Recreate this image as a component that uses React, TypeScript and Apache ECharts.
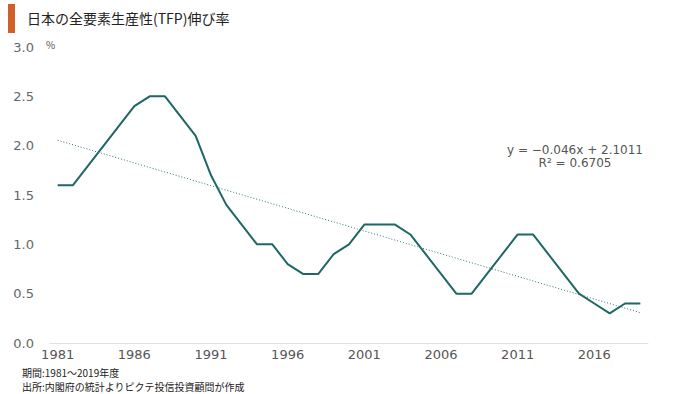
import React, { useEffect, useRef } from "react";
import * as echarts from "echarts";

const years: string[] = [];
for (let y = 1981; y <= 2019; y++) years.push(String(y));

const tfp = [
  1.6, 1.6, 1.8, 2.0, 2.2, 2.4, 2.5, 2.5, 2.3, 2.1,
  1.7, 1.4, 1.2, 1.0, 1.0, 0.8, 0.7, 0.7, 0.9, 1.0,
  1.2, 1.2, 1.2, 1.1, 0.9, 0.7, 0.5, 0.5, 0.7, 0.9,
  1.1, 1.1, 0.9, 0.7, 0.5, 0.4, 0.3, 0.4, 0.4,
];

const slope = -0.046;
const intercept = 2.1011;
const trendStart = [years[0], slope * 1 + intercept];
const trendEnd = [years[years.length - 1], slope * years.length + intercept];

const yTicks = { min: 0, max: 3, interval: 0.5 };

const title = "日本の全要素生産性(TFP)伸び率";
const notes = ["期間:1981～2019年度", "出所:内閣府の統計よりピクテ投信投資顧問が作成"];
const eqText = ["y = −0.046x + 2.1011", "R² = 0.6705"];

export default function App() {
  const ref = useRef<HTMLDivElement>(null);
  useEffect(() => {
    if (!ref.current) return;
    const chart = echarts.init(ref.current, undefined, { renderer: "svg" });
    const font = "'Noto Sans CJK JP', 'Noto Sans', sans-serif";
    chart.setOption({
      animation: false,
      backgroundColor: "#ffffff",
      textStyle: { fontFamily: font },
      grid: { left: 50, right: 32, top: 47, bottom: 51 },
      xAxis: {
        type: "category",
        data: years,
        boundaryGap: true,
        axisLine: { lineStyle: { color: "#e0e0e0", width: 1 } },
        axisTick: { show: false },
        axisLabel: {
          interval: 4,
          color: "#555555",
          fontSize: 13,
          margin: 5,
          fontFamily: "'DejaVu Sans', sans-serif",
        },
      },
      yAxis: {
        type: "value",
        min: yTicks.min,
        max: yTicks.max,
        interval: yTicks.interval,
        axisLine: { show: false },
        axisTick: { show: false },
        splitLine: { show: false },
        axisLabel: {
          color: "#666666",
          fontSize: 13,
          margin: 16,
          fontFamily: "'DejaVu Sans', sans-serif",
          formatter: (v: number) => v.toFixed(1),
        },
      },
      series: [
        {
          type: "line",
          data: tfp,
          symbol: "none",
          lineStyle: { color: "#1e6764", width: 2 },
          markLine: {
            silent: true,
            symbol: "none",
            label: { show: false },
            lineStyle: { color: "#2a7a74", width: 1, type: [1, 2] },
            data: [[{ coord: trendStart }, { coord: trendEnd }]],
          },
        },
      ],
      graphic: [
        { type: "rect", shape: { x: 8, y: 4, width: 7, height: 29 }, style: { fill: "#d0602a" } },
        {
          type: "text",
          x: 27,
          y: 18,
          style: { text: title, fontSize: 14, fill: "#222222", fontFamily: font, verticalAlign: "middle" },
        },
        {
          type: "text",
          x: 46,
          y: 44,
          style: { text: "%", fontSize: 10, fill: "#555555", fontFamily: font, verticalAlign: "middle" },
        },
        {
          type: "text",
          x: 575,
          y: 150,
          style: { text: eqText[0], fontSize: 12, fill: "#555555", fontFamily: "'DejaVu Sans', sans-serif", align: "center", verticalAlign: "middle" },
        },
        {
          type: "text",
          x: 575,
          y: 163,
          style: { text: eqText[1], fontSize: 12, fill: "#555555", fontFamily: "'DejaVu Sans', sans-serif", align: "center", verticalAlign: "middle" },
        },
        {
          type: "text",
          x: 22,
          y: 372,
          style: { text: notes[0], fontSize: 10, lineHeight: 12, fill: "#222222", fontFamily: font, verticalAlign: "middle" },
        },
        {
          type: "text",
          x: 22,
          y: 386,
          style: { text: notes[1], fontSize: 10, lineHeight: 12, fill: "#222222", fontFamily: font, verticalAlign: "middle" },
        },
      ],
    });
    return () => chart.dispose();
  }, []);
  return <div ref={ref} style={{ width: 680, height: 394, position: "absolute", left: 0, top: 0 }} />;
}
